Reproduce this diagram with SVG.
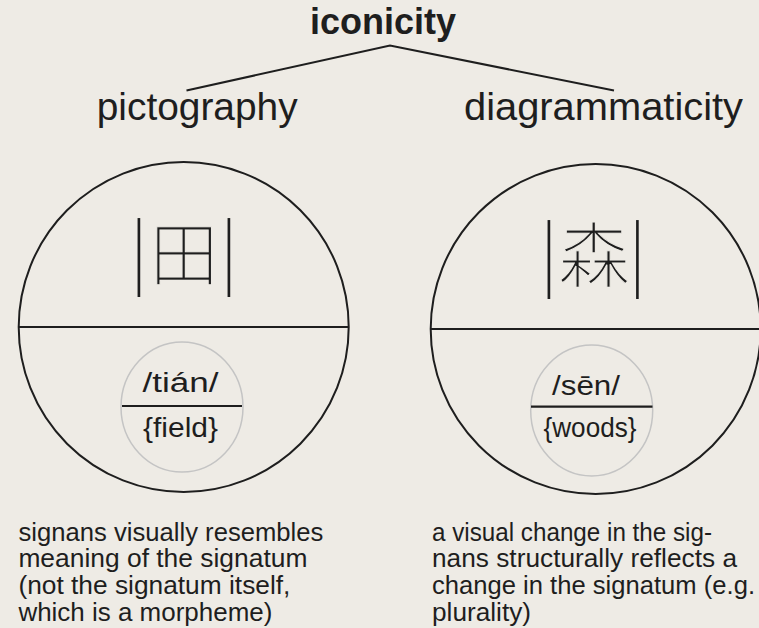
<svg xmlns="http://www.w3.org/2000/svg" width="759" height="628" viewBox="0 0 759 628">
<style>
.bg{fill:#eeebe5}
.t{font-family:"Liberation Sans",Arial,sans-serif;fill:#1e1e1e}
.title{font-size:36px;font-weight:bold}
.head{font-size:38px}
.cap{font-size:25px}
.sm{font-size:27px}
.cjk{font-family:"Noto Sans CJK SC","Noto Sans CJK JP",sans-serif;font-weight:200;fill:#1e1e1e;stroke:#eeebe5;stroke-width:1.1}
.pipe{font-family:Inter,"Noto Sans",sans-serif;font-weight:200;font-size:66px;fill:#1e1e1e}
.big{fill:none;stroke:#1e1e1e;stroke-width:2}
.small{fill:none;stroke:#c4c4c4;stroke-width:1.5}
.bar{stroke:#1e1e1e;stroke-width:2.2}
.conn{fill:none;stroke:#1e1e1e;stroke-width:2}
</style>
<rect class="bg" x="0" y="0" width="759" height="628"/>
<g id="title"><text class="t title" x="383" y="34" text-anchor="middle">iconicity</text></g>
<g id="connectors"><polyline class="conn" points="186.5,90.5 390,45.5 614,90.5"/></g>
<g id="pictography"><text class="t head" x="96.7" y="119.5" textLength="201" lengthAdjust="spacingAndGlyphs">pictography</text></g>
<g id="diagrammaticity"><text class="t head" x="464" y="119.5" textLength="279" lengthAdjust="spacingAndGlyphs">diagrammaticity</text></g>
<g id="sign-tian">
<circle class="big" cx="183.7" cy="327" r="165"/>
<line class="bar" x1="18.7" y1="327" x2="348.7" y2="327"/>
<text class="pipe" x="139" y="282" text-anchor="middle">|</text>
<text class="cjk" x="184" y="280" text-anchor="middle" font-size="69">田</text>
<text class="pipe" x="229" y="282" text-anchor="middle">|</text>
<ellipse class="small" cx="182" cy="407" rx="61" ry="65"/>
<line class="bar" x1="122" y1="406" x2="242" y2="406"/>
<text class="t sm" x="180.5" y="392" text-anchor="middle" textLength="76" lengthAdjust="spacingAndGlyphs">/tián/</text>
<text class="t sm" x="180.5" y="437" text-anchor="middle" textLength="75" lengthAdjust="spacingAndGlyphs">{field}</text>
</g>
<g id="sign-sen">
<circle class="big" cx="595.7" cy="329" r="165"/>
<line class="bar" x1="430.7" y1="329" x2="760" y2="329"/>
<text class="pipe" x="549" y="284" text-anchor="middle">|</text>
<text class="cjk" x="594" y="281" text-anchor="middle" font-size="71">森</text>
<text class="pipe" x="637.3" y="284" text-anchor="middle">|</text>
<ellipse class="small" cx="591.7" cy="410.5" rx="61" ry="65.5"/>
<line class="bar" x1="531" y1="406.7" x2="652.5" y2="406.7"/>
<text class="t sm" x="586" y="395" text-anchor="middle" textLength="68" lengthAdjust="spacingAndGlyphs">/sēn/</text>
<text class="t sm" x="590" y="437" text-anchor="middle" textLength="93" lengthAdjust="spacingAndGlyphs">{woods}</text>
</g>
<g id="caption-left">
<text class="t cap" x="18.4" y="540.5" textLength="305" lengthAdjust="spacingAndGlyphs">signans visually resembles</text>
<text class="t cap" x="18.4" y="567.3" textLength="289" lengthAdjust="spacingAndGlyphs">meaning of the signatum</text>
<text class="t cap" x="18.4" y="594" textLength="272" lengthAdjust="spacingAndGlyphs">(not the signatum itself,</text>
<text class="t cap" x="18.4" y="620.7" textLength="254" lengthAdjust="spacingAndGlyphs">which is a morpheme)</text>
</g>
<g id="caption-right">
<text class="t cap" x="432" y="540.5" textLength="280" lengthAdjust="spacingAndGlyphs">a visual change in the sig-</text>
<text class="t cap" x="432" y="567.3" textLength="305" lengthAdjust="spacingAndGlyphs">nans structurally reflects a</text>
<text class="t cap" x="432" y="594" textLength="323" lengthAdjust="spacingAndGlyphs">change in the signatum (e.g.</text>
<text class="t cap" x="432" y="620.7" textLength="99" lengthAdjust="spacingAndGlyphs">plurality)</text>
</g>
</svg>
